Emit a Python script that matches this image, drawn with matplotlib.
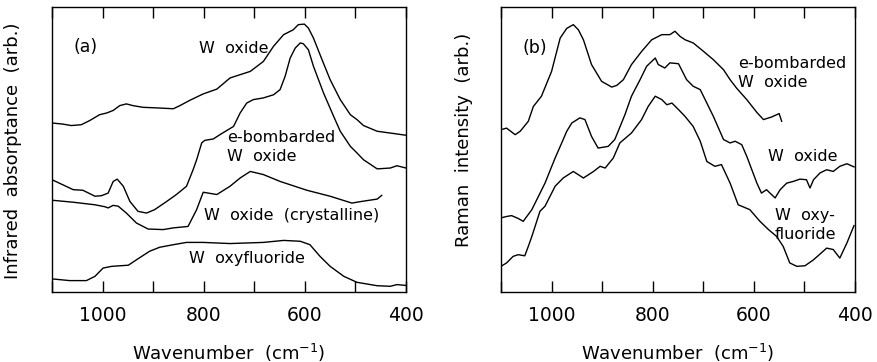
import matplotlib
matplotlib.use("Agg")
import matplotlib.pyplot as plt
from matplotlib.ticker import MultipleLocator, FixedLocator

# ---- panel (a): infrared absorptance (arb. units) ----
ir_oxide_wn = [1100, 1078, 1062, 1042, 1025, 1006, 992, 979, 966, 953, 940, 920, 893, 860,
               847, 827, 801, 774, 748, 708, 682, 662, 642, 623, 613, 601, 593, 583, 566,
               550, 530, 510, 497, 484, 457, 424, 400]
ir_oxide = [59.3, 58.9, 58.4, 58.7, 60.2, 62.2, 62.8, 63.7, 65.4, 66.0, 65.4, 64.8, 64.6, 64.3,
            65.4, 67.3, 69.5, 71.2, 75.1, 77.4, 80.9, 86.2, 90.3, 92.0, 93.8, 94.0, 92.6, 89.1,
            81.5, 74.5, 67.5, 62.2, 60.5, 58.4, 56.4, 55.6, 55.0]

ir_ebomb_wn = [1100, 1058, 1039, 1015, 1002, 989, 979, 971, 959, 946, 930, 913, 897, 873, 854,
               834, 821, 814, 804, 798, 781, 768, 741, 728, 715, 702, 682, 662, 649, 639, 629,
               619, 609, 603, 593, 583, 563, 543, 530, 510, 497, 484, 457, 431, 418, 400]
ir_ebomb = [39.4, 35.9, 35.7, 33.6, 33.8, 34.7, 38.8, 39.6, 37.1, 31.8, 28.3, 27.7, 28.9, 31.8,
            34.2, 37.1, 42.9, 46.4, 52.3, 53.2, 53.7, 55.2, 58.1, 62.8, 66.3, 67.5, 68.1, 69.2,
            71.0, 75.7, 82.1, 85.6, 87.4, 87.1, 85.0, 79.2, 69.8, 61.6, 56.4, 51.1, 48.8, 46.4,
            43.2, 43.5, 44.3, 43.5]

ir_cryst_wn = [1100, 1058, 1015, 995, 989, 979, 969, 953, 933, 910, 880, 860, 831, 814, 801,
               774, 748, 728, 708, 682, 649, 596, 550, 507, 487, 457, 448]
ir_cryst = [32.2, 31.5, 30.6, 29.9, 29.5, 30.4, 30.1, 27.7, 24.2, 22.1, 21.9, 22.5, 23.0, 28.9,
            35.0, 34.2, 37.1, 40.0, 42.3, 41.2, 38.8, 35.7, 33.6, 31.2, 31.8, 32.6, 33.9]

ir_oxyf_wn = [1100, 1065, 1032, 1015, 999, 982, 949, 933, 907, 887, 860, 834, 801, 748, 682,
              642, 609, 590, 570, 550, 523, 497, 457, 431, 418, 400]
ir_oxyf = [4.6, 4.0, 4.0, 5.5, 8.4, 9.0, 9.4, 11.3, 14.3, 15.7, 16.6, 17.4, 17.4, 17.0, 17.4,
           18.1, 17.8, 16.6, 12.5, 9.0, 5.5, 3.4, 2.2, 2.0, 2.6, 2.3]

# ---- panel (b): Raman intensity (arb. units) ----
ra_ebomb_wn = [1099, 1089, 1072, 1062, 1046, 1036, 1020, 1000, 983, 970, 957, 947, 937, 921,
               901, 881, 871, 858, 842, 822, 802, 782, 766, 756, 746, 736, 720, 700, 680, 660,
               647, 634, 614, 594, 581, 565, 550, 545]
ra_ebomb = [57.0, 57.5, 55.2, 56.4, 59.9, 65.1, 68.7, 77.4, 89.1, 92.5, 93.8, 92.0, 88.5, 79.8,
            73.9, 71.9, 72.5, 74.5, 79.8, 84.4, 88.5, 90.3, 90.3, 91.5, 89.7, 88.5, 87.4, 84.5,
            81.5, 78.0, 74.5, 71.5, 67.5, 63.0, 60.5, 61.4, 62.6, 59.9]

ra_oxide_wn = [1100, 1089, 1079, 1066, 1056, 1039, 1013, 993, 977, 970, 960, 944, 934, 921, 908,
               888, 875, 855, 842, 825, 812, 795, 789, 776, 766, 749, 733, 720, 706, 693, 680,
               660, 647, 637, 624, 614, 604, 594, 585, 575, 568, 558, 548, 535, 522, 509, 496,
               489, 482, 469, 456, 443, 430, 416, 402]
ra_oxide = [26.0, 26.5, 26.8, 25.8, 24.8, 28.9, 38.2, 47.0, 53.5, 56.4, 59.3, 61.1, 60.5, 54.6,
            50.5, 51.1, 53.5, 62.2, 68.7, 74.5, 79.2, 82.1, 79.8, 78.6, 80.4, 80.1, 74.5, 72.2,
            71.0, 66.3, 61.6, 53.5, 52.3, 52.9, 51.7, 47.6, 42.9, 38.2, 34.7, 35.9, 34.7, 33.0,
            35.9, 38.2, 38.8, 39.6, 39.4, 36.5, 39.4, 41.8, 42.9, 42.3, 44.1, 45.0, 43.9]

ra_oxyf_wn = [1100, 1089, 1076, 1066, 1053, 1046, 1039, 1023, 1013, 993, 977, 957, 937, 917, 904,
              894, 878, 865, 842, 822, 809, 795, 782, 772, 762, 749, 736, 720, 706, 693, 677,
              664, 647, 631, 608, 588, 571, 555, 542, 529, 515, 499, 482, 456, 443, 430, 416,
              402]
ra_oxyf = [9.0, 10.2, 12.5, 13.1, 12.7, 16.0, 19.5, 28.3, 30.1, 37.1, 40.0, 42.3, 40.0, 42.3,
           44.1, 43.5, 47.0, 52.3, 55.8, 60.5, 65.1, 68.7, 67.5, 65.7, 66.3, 64.0, 61.6, 58.1,
           52.9, 45.8, 44.1, 44.7, 38.2, 30.6, 28.9, 24.8, 21.9, 19.5, 16.0, 10.2, 9.0, 9.2,
           11.3, 15.4, 14.9, 11.9, 17.2, 23.3]

tick_labels = ["1000", "800", "600", "400"]
tick_pos = [1000, 800, 600, 400]

FS_TICK = 13.5
FS_LABEL = 13
FS_NOTE = 11.5


def style_axis(ax):
    ax.set_xlim(1100, 400)
    ax.set_ylim(0, 100)
    ax.set_yticks([])
    ax.xaxis.set_major_locator(FixedLocator(tick_pos))
    ax.set_xticklabels(tick_labels)
    ax.xaxis.set_minor_locator(MultipleLocator(100))
    ax.tick_params(axis="x", which="both", direction="in", length=8, width=1,
                   top=True, bottom=True, pad=10, labelsize=FS_TICK)
    for sp in ax.spines.values():
        sp.set_linewidth(1.0)
    ax.set_xlabel("Wavenumber  (cm$^{-1}$)", fontsize=FS_LABEL, labelpad=12)


fig = plt.figure(figsize=(8.78, 3.62), dpi=100)
ax_a = fig.add_axes([52 / 878, 70 / 362, 354 / 878, 285 / 362])
ax_b = fig.add_axes([501 / 878, 70 / 362, 354 / 878, 285 / 362])

lw = 1.0
ax_a.plot(ir_oxide_wn, ir_oxide, color="black", lw=lw)
ax_a.plot(ir_ebomb_wn, ir_ebomb, color="black", lw=lw)
ax_a.plot(ir_cryst_wn, ir_cryst, color="black", lw=lw)
ax_a.plot(ir_oxyf_wn, ir_oxyf, color="black", lw=lw)
style_axis(ax_a)
ax_a.set_ylabel("Infrared  absorptance  (arb.)", fontsize=FS_LABEL)
ax_a.yaxis.set_label_coords(-0.085, 0.495)

ax_a.text(1058, 86.0, "(a)", fontsize=12.5, ha="left", va="center")
ax_a.text(809, 85.6, "W  oxide", fontsize=FS_NOTE, ha="left", va="center")
ax_a.text(754, 50.9, "e-bombarded\nW  oxide", fontsize=FS_NOTE, ha="left", va="center",
          linespacing=1.3)
ax_a.text(799, 26.7, "W  oxide  (crystalline)", fontsize=FS_NOTE, ha="left", va="center")
ax_a.text(829, 11.9, "W  oxyfluoride", fontsize=FS_NOTE, ha="left", va="center")

ax_b.plot(ra_ebomb_wn, ra_ebomb, color="black", lw=lw)
ax_b.plot(ra_oxide_wn, ra_oxide, color="black", lw=lw)
ax_b.plot(ra_oxyf_wn, ra_oxyf, color="black", lw=lw)
style_axis(ax_b)
ax_b.set_ylabel("Raman  intensity  (arb.)", fontsize=FS_LABEL)
ax_b.yaxis.set_label_coords(-0.079, 0.533)

ax_b.text(1058, 85.6, "(b)", fontsize=12.5, ha="left", va="center")
ax_b.text(631, 76.8, "e-bombarded\nW  oxide", fontsize=FS_NOTE, ha="left", va="center",
          linespacing=1.3)
ax_b.text(572, 47.7, "W  oxide", fontsize=FS_NOTE, ha="left", va="center")
ax_b.text(558, 23.5, "W  oxy-\nfluoride", fontsize=FS_NOTE, ha="left", va="center",
          linespacing=1.3)

fig.savefig("out.png", dpi=100)
